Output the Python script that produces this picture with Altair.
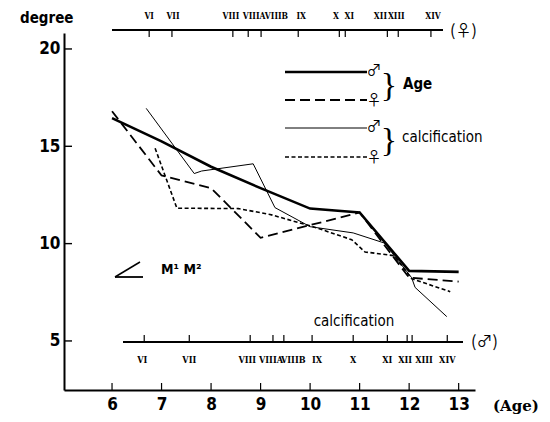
import altair as alt
import pandas as pd

# ---- data ----
ages = [6, 7, 8, 9, 10, 11, 12, 13]
age_male = [16.45, 15.25, 13.95, 12.85, 11.8, 11.6, 8.6, 8.55]
age_female = [16.8, 13.5, 12.85, 10.3, 10.95, 11.6, 8.25, 8.05]

calc_male_x = [6.69, 7.66, 7.81, 8.85, 9.29, 10.0, 10.87, 11.5, 12.05, 12.12, 12.76]
calc_male_y = [16.95, 13.6, 13.73, 14.1, 11.85, 10.87, 10.55, 10.03, 8.25, 7.75, 6.25]

calc_female_x = [6.87, 7.31, 8.55, 9.19, 10.06, 10.84, 11.11, 11.7, 12.05, 12.83]
calc_female_y = [14.9, 11.82, 11.8, 11.5, 10.87, 10.2, 9.57, 9.38, 8.2, 7.53]

stages = ["VI", "VII", "VIII", "VIIIA", "VIIIB", "IX", "X", "XI", "XII", "XIII", "XIV"]
# tick positions (age) of each calcification stage, and where its label sits
stage_age_female = [6.75, 7.21, 8.44, 8.75, 9.01, 9.76, 10.59, 10.71, 11.56, 11.78, 12.44]
stage_label_female = [6.75, 7.23, 8.40, 8.87, 9.32, 9.82, 10.52, 10.79, 11.42, 11.74, 12.48]
stage_age_male = [6.65, 7.56, 8.79, 9.25, 9.47, 10.04, 10.87, 11.56, 11.96, 12.06, 12.77]
stage_label_male = [6.61, 7.56, 8.73, 9.21, 9.66, 10.14, 10.87, 11.56, 11.92, 12.3, 12.77]

x_ticks = ages
y_ticks = [5, 10, 15, 20]

# ---- layout ----
W, H = 411, 357
SANS = "DejaVu Sans Condensed, DejaVu Sans"
SYM = "Noto Sans CJK JP"
ROMAN = "DejaVu Serif Condensed, DejaVu Serif"

xs = alt.Scale(domain=[5.03, 13.33], nice=False, zero=False)
ys = alt.Scale(domain=[2.48, 20.82], nice=False, zero=False)

xax = alt.Axis(
    values=x_ticks, title=None, ticks=False, grid=False, domainColor="black",
    domainWidth=2, labelFontSize=17, labelPadding=6, labelColor="black",
    labelFont=SANS, labelFontWeight="bold")
yax = alt.Axis(
    values=y_ticks, title=None, ticks=False, grid=False, domainColor="black",
    domainWidth=2, labelFontSize=17, labelPadding=4, labelColor="black",
    labelFont=SANS, labelFontWeight="bold")


def X(f="x:Q"):
    return alt.X(f, scale=xs, axis=xax)


def Y(f="y:Q"):
    return alt.Y(f, scale=ys, axis=yax)


one = pd.DataFrame({"k": [0]})


def line(xv, yv, **kw):
    df = pd.DataFrame({"x": xv, "y": yv})
    return alt.Chart(df).mark_line(color="black", strokeCap="butt", **kw).encode(x=X(), y=Y())


def txt(s, x, y, **kw):
    return alt.Chart(one).mark_text(text=s, color="black", **kw).encode(
        x=alt.value(x), y=alt.value(y))


def seg(x1, y1, x2, y2, **kw):
    return alt.Chart(one).mark_rule(color="black", **kw).encode(
        x=alt.value(x1), y=alt.value(y1), x2=alt.value(x2), y2=alt.value(y2))


def hrule(x1, x2, y, **kw):
    return alt.Chart(one).mark_rule(color="black", **kw).encode(
        x=alt.value(x1), x2=alt.value(x2), y=alt.value(y))


age_m = line(ages, age_male, strokeWidth=2.6)
age_f = line(ages, age_female, strokeWidth=1.8, strokeDash=[10, 5])
calc_m = line(calc_male_x, calc_male_y, strokeWidth=1.0)
calc_f = line(calc_female_x, calc_female_y, strokeWidth=1.6, strokeDash=[4, 2.5])

# inward ticks on main axes
ytick = alt.Chart(pd.DataFrame({"y": y_ticks})).mark_rule(color="black", strokeWidth=1.4).encode(
    x=alt.value(0), x2=alt.value(8), y=Y())
xtick = alt.Chart(pd.DataFrame({"x": x_ticks})).mark_rule(color="black", strokeWidth=1.2).encode(
    x=X(), y=alt.value(H), y2=alt.value(H - 7))

# female calcification scale (top)
fem = pd.DataFrame({"x": stage_age_female, "lx": stage_label_female, "s": stages})
fem_line = hrule(48, 379, -3, strokeWidth=2)
fem_ticks = alt.Chart(fem).mark_rule(color="black", strokeWidth=1.2).encode(
    x=X(), y=alt.value(-3), y2=alt.value(4))
fem_labels = alt.Chart(fem).mark_text(color="black", font=ROMAN, fontSize=8.5, fontWeight="bold").encode(
    x=X("lx:Q"), y=alt.value(-17), text="s:N")
fem_sym = txt("(♀)", 386, -2, font=SYM, fontSize=16, align="left")

# male calcification scale (bottom)
mal = pd.DataFrame({"x": stage_age_male, "lx": stage_label_male, "s": stages})
mal_line = hrule(59, 399, 309, strokeWidth=2)
mal_ticks = alt.Chart(mal).mark_rule(color="black", strokeWidth=1.2).encode(
    x=X(), y=alt.value(309), y2=alt.value(302))
mal_labels = alt.Chart(mal).mark_text(color="black", font=ROMAN, fontSize=9, fontWeight="bold").encode(
    x=X("lx:Q"), y=alt.value(327), text="s:N")
mal_sym = txt("(♂)", 407, 309, font=SYM, fontSize=16, align="left")
mal_title = txt("calcification", 290, 288, font=SANS, fontSize=15)

# legend
leg = [
    hrule(221, 303, 39, strokeWidth=2.6),
    hrule(221, 303, 67, strokeWidth=1.8, strokeDash=[10, 5]),
    hrule(221, 303, 95, strokeWidth=1.0),
    hrule(221, 303, 124, strokeWidth=1.6, strokeDash=[4, 2.5]),
    txt("♂", 310, 37, font=SYM, fontSize=15),
    txt("♀", 310, 67, font=SYM, fontSize=15),
    txt("♂", 310, 93, font=SYM, fontSize=15),
    txt("♀", 310, 124, font=SYM, fontSize=15),
    txt("}", 325, 53, font="Liberation Serif", fontSize=34),
    txt("}", 325, 108, font="Liberation Serif", fontSize=34),
    txt("Age", 339, 51, font=SANS, fontSize=15, fontWeight="bold", align="left"),
    txt("calcification", 338, 104, font=SANS, fontSize=15, align="left"),
]

# other annotations
others = [
    txt("degree", -44, -15, font=SANS, fontSize=15, fontWeight="bold", align="left"),
    txt("(Age)", 429, 373, font="DejaVu Serif", fontSize=15, fontWeight="bold", align="left"),
    seg(51, 244, 79, 244, strokeWidth=1.8),
    seg(51, 244, 76, 229, strokeWidth=1.5),
    txt("M¹ M²", 97, 237, font=SANS, fontSize=14, fontWeight="bold", align="left"),
]

chart = alt.layer(
    age_m, age_f, calc_m, calc_f, ytick, xtick,
    fem_line, fem_ticks, fem_labels, fem_sym,
    mal_line, mal_ticks, mal_labels, mal_sym, mal_title,
    *leg, *others,
).properties(
    width=W, height=H,
    padding={"left": 64, "top": 33, "right": 75, "bottom": 32},
    autosize=alt.AutoSizeParams(type="none"),
    background="white",
).configure_view(strokeWidth=0)

chart.save("out.html", embed_options={"renderer": "svg", "actions": False})
